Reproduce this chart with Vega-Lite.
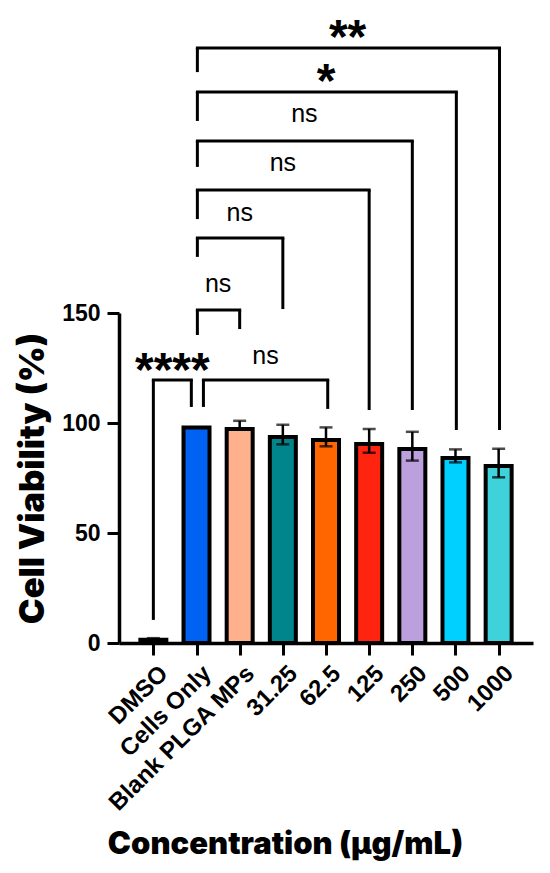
{
  "$schema": "https://vega.github.io/schema/vega-lite/v6.json",
  "width": 414,
  "height": 330,
  "autosize": "none",
  "padding": {"left": 119, "top": 313, "right": 17, "bottom": 230},
  "background": "white",
  "datasets": {
    "bars": [
      {"pos": 0, "group": "DMSO", "mean": 1.5, "lo": 1.0, "hi": 2.2},
      {"pos": 1, "group": "Cells Only", "mean": 98, "lo": 98, "hi": 98},
      {"pos": 2, "group": "Blank PLGA MPs", "mean": 97.3, "lo": 97.3, "hi": 101},
      {"pos": 3, "group": "31.25", "mean": 93.6, "lo": 90.3, "hi": 99.2},
      {"pos": 4, "group": "62.5", "mean": 92.3, "lo": 89.4, "hi": 98},
      {"pos": 5, "group": "125", "mean": 90.5, "lo": 86.5, "hi": 97.3},
      {"pos": 6, "group": "250", "mean": 88.2, "lo": 82.9, "hi": 96},
      {"pos": 7, "group": "500", "mean": 84.1, "lo": 82.1, "hi": 88},
      {"pos": 8, "group": "1000", "mean": 80.5, "lo": 75.3, "hi": 88.3}
    ],
    "brackets": [
      {"label": "****", "kind": "stars", "x1": 0, "x2": 0.88, "top": 119.5, "leftEnd": 10.5, "rightEnd": 107.3, "lx": 0.44, "ly": 129.3},
      {"label": "ns", "kind": "ns", "x1": 1.16, "x2": 4.04, "top": 119.5, "leftEnd": 107.3, "rightEnd": 106.4, "lx": 2.6, "ly": 129.8},
      {"label": "ns", "kind": "ns", "x1": 1.02, "x2": 2, "top": 151.4, "leftEnd": 140, "rightEnd": 142.7, "lx": 1.5, "ly": 162.7},
      {"label": "ns", "kind": "ns", "x1": 1.02, "x2": 3, "top": 184.1, "leftEnd": 175.5, "rightEnd": 151.8, "lx": 2, "ly": 195},
      {"label": "ns", "kind": "ns", "x1": 1.02, "x2": 5, "top": 205.9, "leftEnd": 192.7, "rightEnd": 105.9, "lx": 3, "ly": 217.5},
      {"label": "ns", "kind": "ns", "x1": 1.02, "x2": 6, "top": 228.2, "leftEnd": 216.4, "rightEnd": 105.9, "lx": 3.5, "ly": 239.8},
      {"label": "*", "kind": "stars", "x1": 1.02, "x2": 7.02, "top": 250.5, "leftEnd": 237.3, "rightEnd": 96.8, "lx": 4, "ly": 260.5},
      {"label": "**", "kind": "stars", "x1": 1.02, "x2": 8.02, "top": 270.5, "leftEnd": 259.5, "rightEnd": 96.8, "lx": 4.5, "ly": 280.5}
    ]
  },
  "config": {
    "view": {"stroke": null},
    "axis": {
      "grid": false,
      "domainColor": "black",
      "domainWidth": 3.5,
      "tickColor": "black",
      "tickWidth": 3,
      "tickSize": 12,
      "labelColor": "black",
      "labelFont": "Liberation Sans",
      "labelFontWeight": "bold",
      "labelFontSize": 23,
      "labelLimit": 0,
      "titleColor": "black",
      "titleFont": "Inter",
      "titleFontWeight": 900
    }
  },
  "layer": [
    {
      "data": {"name": "bars"},
      "mark": {"type": "bar", "width": 26, "stroke": "black", "strokeWidth": 4},
      "encoding": {
        "x": {
          "field": "pos",
          "type": "quantitative",
          "scale": {"domain": [-0.68, 8.68], "nice": false, "zero": false},
          "axis": {
            "values": [0, 1, 2, 3, 4, 5, 6, 7, 8],
            "labelExpr": "['DMSO','Cells Only','Blank PLGA MPs','31.25','62.5','125','250','500','1000'][datum.value]",
            "labelAngle": -45,
            "labelAlign": "right",
            "labelBaseline": "top",
            "labelPadding": 6,
            "labelOffset": 2,
            "labelFontSize": 24,
            "labelOverlap": false,
            "labelFlush": false,
            "title": "Concentration (µg/mL)",
            "titleFontSize": 31,
            "titleX": 166,
            "titleY": 210,
            "titleAlign": "center",
            "titleBaseline": "alphabetic"
          }
        },
        "y": {
          "field": "mean",
          "type": "quantitative",
          "scale": {"domain": [0, 150], "nice": false},
          "axis": {
            "values": [0, 50, 100, 150],
            "labelPadding": 7,
            "title": "Cell Viability (%)",
            "titleFontSize": 34.5,
            "titleX": -76,
            "titleY": 165,
            "titleAlign": "center",
            "titleBaseline": "alphabetic"
          }
        },
        "fill": {
          "field": "group",
          "type": "nominal",
          "scale": {
            "domain": ["DMSO", "Cells Only", "Blank PLGA MPs", "31.25", "62.5", "125", "250", "500", "1000"],
            "range": ["#ffffff", "#0062f2", "#ffb08c", "#00858c", "#ff6600", "#ff2410", "#bba0dd", "#00d0ff", "#40d2da"]
          },
          "legend": null
        }
      }
    },
    {
      "data": {"name": "bars"},
      "mark": {"type": "rule", "color": "black", "strokeWidth": 2.5},
      "encoding": {
        "x": {"field": "pos", "type": "quantitative"},
        "y": {"field": "lo", "type": "quantitative"},
        "y2": {"field": "hi"}
      }
    },
    {
      "data": {"name": "bars"},
      "mark": {"type": "tick", "orient": "horizontal", "color": "black", "size": 13, "thickness": 2.5},
      "encoding": {
        "x": {"field": "pos", "type": "quantitative"},
        "y": {"field": "hi", "type": "quantitative"}
      }
    },
    {
      "data": {"name": "bars"},
      "mark": {"type": "tick", "orient": "horizontal", "color": "black", "size": 13, "thickness": 2.5},
      "encoding": {
        "x": {"field": "pos", "type": "quantitative"},
        "y": {"field": "lo", "type": "quantitative"}
      }
    },
    {
      "data": {"name": "brackets"},
      "mark": {"type": "rule", "color": "black", "strokeWidth": 3, "strokeCap": "square"},
      "encoding": {
        "x": {"field": "x1", "type": "quantitative"},
        "x2": {"field": "x2"},
        "y": {"field": "top", "type": "quantitative"}
      }
    },
    {
      "data": {"name": "brackets"},
      "mark": {"type": "rule", "color": "black", "strokeWidth": 3},
      "encoding": {
        "x": {"field": "x1", "type": "quantitative"},
        "y": {"field": "top", "type": "quantitative"},
        "y2": {"field": "leftEnd"}
      }
    },
    {
      "data": {"name": "brackets"},
      "mark": {"type": "rule", "color": "black", "strokeWidth": 3},
      "encoding": {
        "x": {"field": "x2", "type": "quantitative"},
        "y": {"field": "top", "type": "quantitative"},
        "y2": {"field": "rightEnd"}
      }
    },
    {
      "data": {"name": "brackets"},
      "transform": [{"filter": "datum.kind === 'ns'"}],
      "mark": {"type": "text", "font": "Liberation Sans", "fontSize": 25, "color": "black", "align": "center", "baseline": "alphabetic", "dy": 6.5},
      "encoding": {
        "x": {"field": "lx", "type": "quantitative"},
        "y": {"field": "ly", "type": "quantitative"},
        "text": {"field": "label"}
      }
    },
    {
      "data": {"name": "brackets"},
      "transform": [{"filter": "datum.kind === 'stars'"}],
      "mark": {"type": "text", "font": "Liberation Sans", "fontWeight": "bold", "fontSize": 48, "color": "black", "align": "center", "baseline": "alphabetic", "dy": 27},
      "encoding": {
        "x": {"field": "lx", "type": "quantitative"},
        "y": {"field": "ly", "type": "quantitative"},
        "text": {"field": "label"}
      }
    }
  ]
}
